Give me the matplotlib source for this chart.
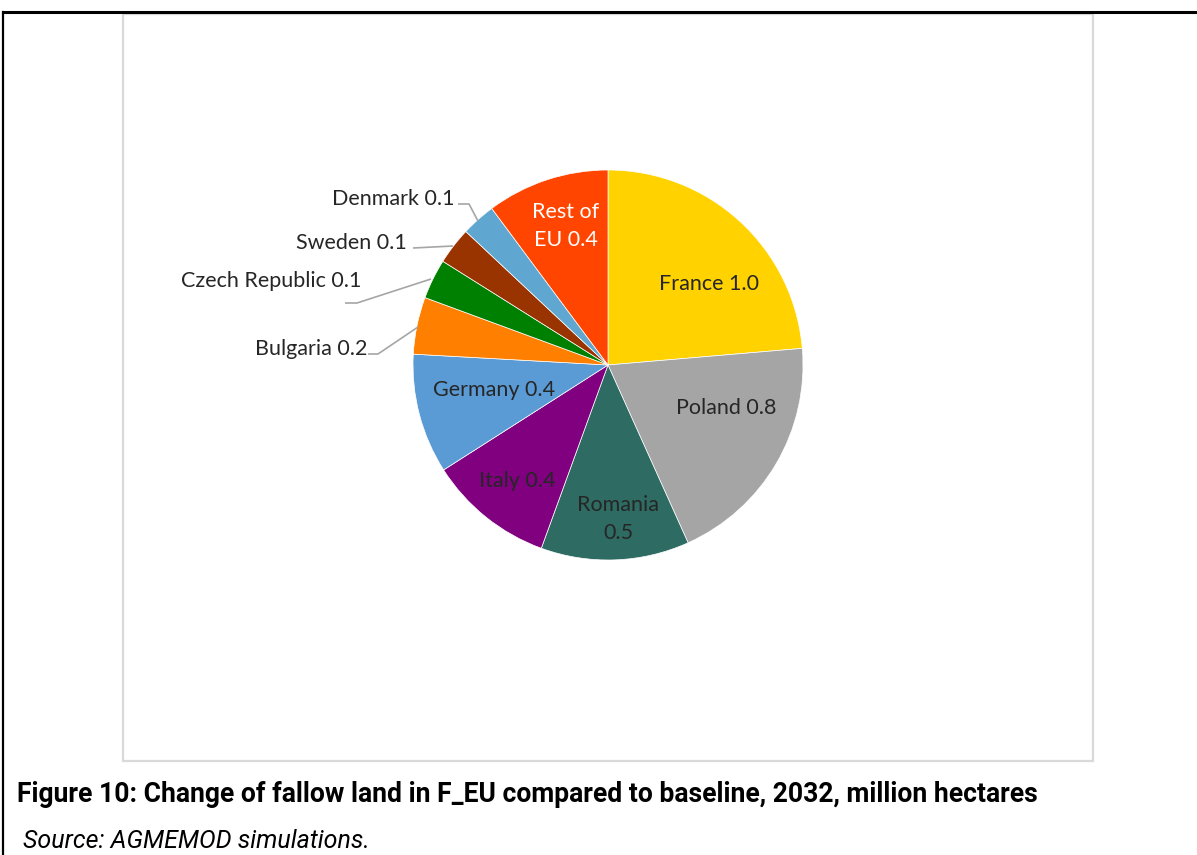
import matplotlib
matplotlib.use('Agg')
from matplotlib import pyplot as plt
from matplotlib.patches import Rectangle

# Change of fallow land, million hectares
countries = ['France', 'Poland', 'Romania', 'Italy', 'Germany', 'Bulgaria',
             'Czech Republic', 'Sweden', 'Denmark', 'Rest of EU']
values = [1.0, 0.83, 0.52, 0.44, 0.42, 0.20, 0.14, 0.13, 0.12, 0.43]
colors = ['#FFD200', '#A5A5A5', '#2E6B63', '#800080', '#5B9BD5', '#FF8000',
          '#008000', '#993300', '#5FA7D0', '#FF4500']

W, H = 1197, 855
CX, CY, R = 608, 365, 195

fig = plt.figure(figsize=(W / 100, H / 100), dpi=100)
ax = fig.add_axes([0, 0, 1, 1])

def py(y):
    # image rows count from the top
    return H - y

wedges, _ = ax.pie(values, colors=colors, startangle=90, counterclock=False,
                   center=(CX, py(CY)), radius=R, frame=True,
                   wedgeprops=dict(edgecolor='white', linewidth=0.5))
ax.set_xlim(0, W)
ax.set_ylim(0, H)
ax.set_aspect('equal')
ax.axis('off')

lbl_font = dict(family=['Lato', 'DejaVu Sans'], fontsize=15.5, color='#262626')

# labels drawn inside the slices: (x, y, colour, two lines?)
inside = {
    'France': (709, 284, '#262626', False),
    'Poland': (726, 408, '#262626', False),
    'Romania': (618, 519, '#262626', True),
    'Italy': (517, 481, '#262626', False),
    'Germany': (494, 390, '#262626', False),
    'Rest of EU': (566, 226, 'white', True),
}
# labels outside with leader lines: (right edge x, y, leader points)
outside = {
    'Bulgaria': (367, 349, [(368, 354), (378, 354), (418, 327)]),
    'Czech Republic': (361, 281, [(345, 303), (357, 303), (431, 279)]),
    'Sweden': (407, 243, [(413, 248), (453, 246)]),
    'Denmark': (455, 199, [(458, 204), (469, 204), (478, 221)]),
}

for name, val in zip(countries, values):
    txt = f'{name} {val:.1f}'
    if name in inside:
        x, y, c, wrap = inside[name]
        if wrap:
            if name == 'Rest of EU':
                txt = f'Rest of\nEU {val:.1f}'
            else:
                txt = f'{name}\n{val:.1f}'
        ax.text(x, py(y), txt, ha='center', va='center', linespacing=1.55,
                **{**lbl_font, 'color': c})
    else:
        x, y, pts = outside[name]
        ax.text(x, py(y), txt, ha='right', va='center', **lbl_font)
        ax.plot([p[0] for p in pts], [py(p[1]) for p in pts],
                color='#A6A6A6', lw=1.2, solid_capstyle='butt')

# chart area border and page frame
ax.add_patch(Rectangle((123, py(761)), 970, 747, fill=False,
                       edgecolor='#D9D9D9', lw=1.6))
ax.plot([3, W], [py(12.5), py(12.5)], color='black', lw=2.2)
ax.plot([3, 3], [py(12.5), 0], color='black', lw=1.6)

ax.text(17, py(802), 'Figure 10: Change of fallow land in F_EU compared to '
        'baseline, 2032, million hectares', ha='left', va='baseline',
        family=['Roboto', 'DejaVu Sans'], fontweight='bold', fontsize=19.1,
        color='black')
ax.text(23, py(848), 'Source: AGMEMOD simulations.', ha='left', va='baseline',
        family=['Roboto', 'DejaVu Sans'], style='italic', fontsize=18,
        color='black')

fig.savefig('out.png', dpi=100)
